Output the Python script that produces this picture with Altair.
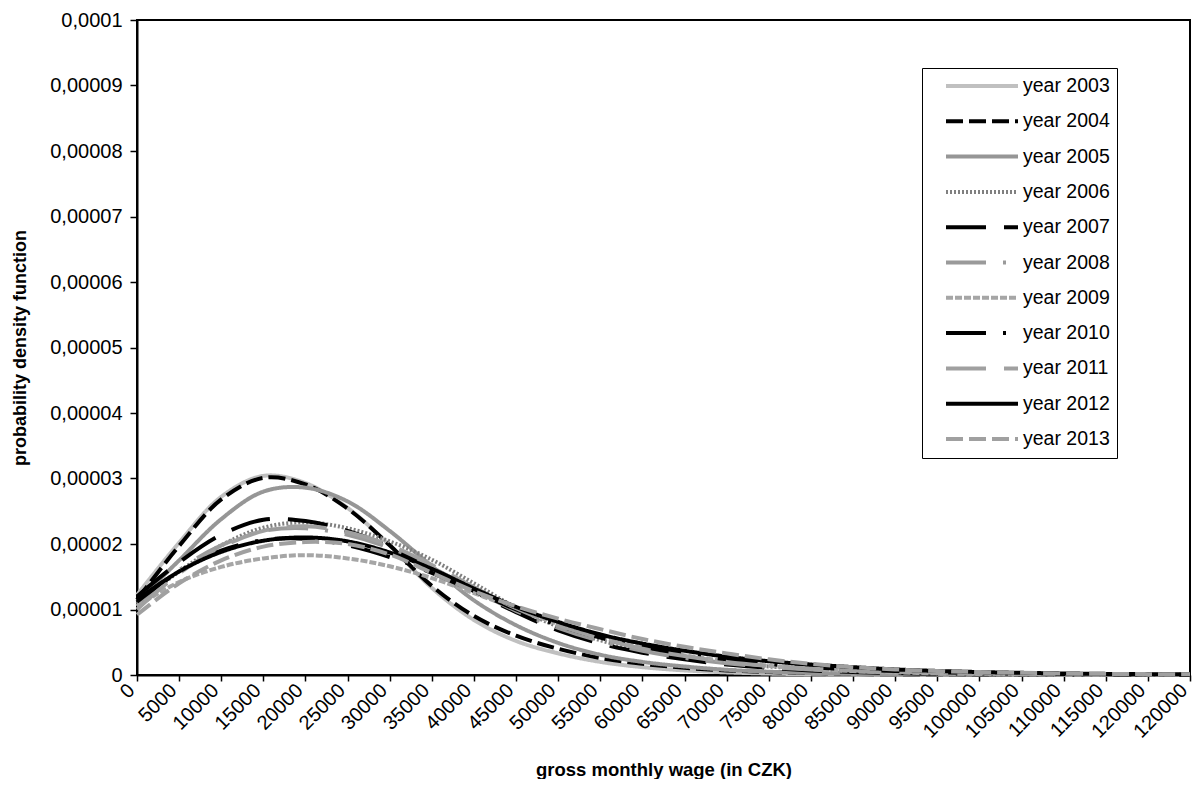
import altair as alt
import pandas as pd

# x categories (equally spaced, as in the source chart) and their tick labels
x_index = list(range(26))
x_labels = ["0", "5000", "10000", "15000", "20000", "25000", "30000", "35000",
            "40000", "45000", "50000", "55000", "60000", "65000", "70000", "75000",
            "80000", "85000", "90000", "95000", "100000", "105000", "110000",
            "115000", "120000", "120000"]

series = ["year 2003", "year 2004", "year 2005", "year 2006", "year 2007", "year 2008",
          "year 2009", "year 2010", "year 2011", "year 2012", "year 2013"]
colors = ["#c0c0c0", "#000000", "#969696", "#808080", "#000000", "#9a9a9a",
          "#a6a6a6", "#000000", "#a0a0a0", "#000000", "#a0a0a0"]
dashes = [[1, 0], [17, 6], [1, 0], [2, 2], [40, 18], [40, 17, 3, 17],
          [7, 2], [40, 17, 3, 17], [40, 18], [1, 0], [17, 6]]

# density values in units of 1e-5
y2003 = [1.22, 2.02, 2.72, 3.04, 2.93, 2.55, 1.98, 1.33, 0.84, 0.52, 0.33, 0.20, 0.12,
         0.07, 0.04, 0.022, 0.012, 0.006, 0.003, 0.001, 0, 0, 0, 0, 0, 0]
y2004 = [1.15, 1.97, 2.68, 3.01, 2.91, 2.54, 1.98, 1.36, 0.90, 0.60, 0.40, 0.26, 0.17,
         0.11, 0.07, 0.045, 0.028, 0.017, 0.010, 0.006, 0.003, 0.002, 0.001, 0, 0, 0]
y2005 = [1.12, 1.75, 2.38, 2.80, 2.86, 2.65, 2.20, 1.66, 1.14, 0.76, 0.49, 0.31, 0.20,
         0.13, 0.08, 0.05, 0.03, 0.018, 0.010, 0.006, 0.003, 0.002, 0.001, 0, 0, 0]
y2006 = [1.08, 1.58, 1.98, 2.25, 2.33, 2.24, 2.04, 1.76, 1.40, 1.03, 0.74, 0.53, 0.38,
         0.27, 0.19, 0.13, 0.09, 0.06, 0.04, 0.025, 0.015, 0.01, 0.006, 0.003, 0.002, 0.001]
y2007 = [1.20, 1.72, 2.14, 2.37, 2.35, 2.20, 1.95, 1.62, 1.28, 0.96, 0.68, 0.48, 0.34,
         0.24, 0.16, 0.11, 0.07, 0.045, 0.03, 0.02, 0.012, 0.008, 0.005, 0.003, 0.002, 0.001]
y2008 = [1.05, 1.60, 1.98, 2.20, 2.24, 2.14, 1.94, 1.64, 1.30, 0.98, 0.72, 0.52, 0.37,
         0.26, 0.18, 0.12, 0.085, 0.058, 0.04, 0.027, 0.018, 0.012, 0.008, 0.005, 0.003, 0.002]
y2009 = [1.05, 1.42, 1.65, 1.78, 1.83, 1.78, 1.66, 1.48, 1.25, 1.01, 0.78, 0.58, 0.42,
         0.30, 0.21, 0.14, 0.09, 0.06, 0.04, 0.025, 0.016, 0.01, 0.006, 0.004, 0.002, 0.001]
y2010 = [1.12, 1.58, 1.90, 2.06, 2.08, 1.98, 1.80, 1.56, 1.28, 1.00, 0.76, 0.57, 0.43,
         0.32, 0.24, 0.17, 0.12, 0.085, 0.06, 0.042, 0.03, 0.02, 0.014, 0.01, 0.007, 0.005]
y2011 = [1.00, 1.55, 1.95, 2.20, 2.27, 2.18, 1.98, 1.68, 1.34, 1.02, 0.76, 0.56, 0.40,
         0.29, 0.20, 0.14, 0.10, 0.07, 0.048, 0.033, 0.022, 0.015, 0.01, 0.007, 0.005, 0.003]
y2012 = [1.15, 1.58, 1.88, 2.05, 2.10, 2.04, 1.87, 1.62, 1.32, 1.04, 0.81, 0.62, 0.48,
         0.37, 0.28, 0.21, 0.16, 0.12, 0.085, 0.062, 0.045, 0.033, 0.024, 0.017, 0.012, 0.009]
y2013 = [0.92, 1.40, 1.75, 1.96, 2.03, 2.00, 1.84, 1.56, 1.28, 1.05, 0.86, 0.70, 0.55,
         0.43, 0.33, 0.24, 0.17, 0.12, 0.085, 0.06, 0.045, 0.033, 0.024, 0.018, 0.013, 0.01]

all_values = [y2003, y2004, y2005, y2006, y2007, y2008, y2009, y2010, y2011, y2012, y2013]
y_ticks = [0, 0.00001, 0.00002, 0.00003, 0.00004, 0.00005, 0.00006, 0.00007,
           0.00008, 0.00009, 0.0001]

rows = []
for order, (name, vals) in enumerate(zip(series, all_values)):
    for i, v in zip(x_index, vals):
        rows.append({"idx": i, "series": name, "density": v * 1e-5, "ord": order})
df = pd.DataFrame(rows)

label_expr = "[" + ",".join("'" + s + "'" for s in x_labels) + "][round(datum.value)]"
FONT = "Liberation Sans"

legend_opts = dict(title=None, orient="none", legendX=785, legendY=48,
                   symbolType="stroke", symbolSize=5184, symbolStrokeWidth=4,
                   labelFontSize=19.5, labelFont=FONT, labelColor="black",
                   clipHeight=22, rowPadding=13.3, padding=7,
                   strokeColor="black", fillColor="white",
                   symbolOffset=15, labelOffset=3,
                   labelExpr="datum.label + '\u00a0\u00a0\u00a0\u00a0\u00a0'")

chart = alt.Chart(df).mark_line(strokeWidth=4, interpolate="catmull-rom", strokeCap="butt").encode(
    x=alt.X("idx:Q",
            scale=alt.Scale(domain=[0, 25], nice=False, zero=False),
            axis=alt.Axis(values=x_index, labelExpr=label_expr, labelAngle=-45,
                          labelAlign="right", labelBaseline="middle",
                          title="gross monthly wage (in CZK)", grid=False,
                          titleY=94, titleBaseline="middle",
                          labelFontSize=20, titleFontSize=18.5, titleFontWeight="bold",
                          tickSize=6, labelPadding=6, labelOffset=-6,
                          labelFlush=False, labelOverlap=False)),
    y=alt.Y("density:Q",
            scale=alt.Scale(domain=[0, 0.0001], nice=False),
            axis=alt.Axis(values=y_ticks,
                          labelExpr="replace(format(datum.value, '.5~f'), '.', ',')",
                          title="probability density function", grid=False,
                          titleX=-117, titleBaseline="middle",
                          labelFontSize=20, titleFontSize=18, titleFontWeight="bold",
                          tickSize=7, labelPadding=8, labelFlush=False)),
    color=alt.Color("series:N", scale=alt.Scale(domain=series, range=colors),
                    legend=alt.Legend(**legend_opts)),
    strokeDash=alt.StrokeDash("series:N", scale=alt.Scale(domain=series, range=dashes),
                              legend=alt.Legend(**legend_opts)),
    order=alt.Order("idx:Q"),
).properties(
    width=1053, height=655,
    autosize=alt.AutoSizeParams(type="none"),
    padding={"left": 129, "top": 12, "right": 3, "bottom": 104},
    background="white",
).configure_view(
    stroke="black", strokeWidth=2
).configure_axis(
    domainColor="black", domainWidth=2, tickColor="black", tickWidth=1.5,
    labelColor="black", titleColor="black", labelFont=FONT, titleFont=FONT
)

chart.save("out.html", embed_options={"renderer": "svg", "actions": False})
